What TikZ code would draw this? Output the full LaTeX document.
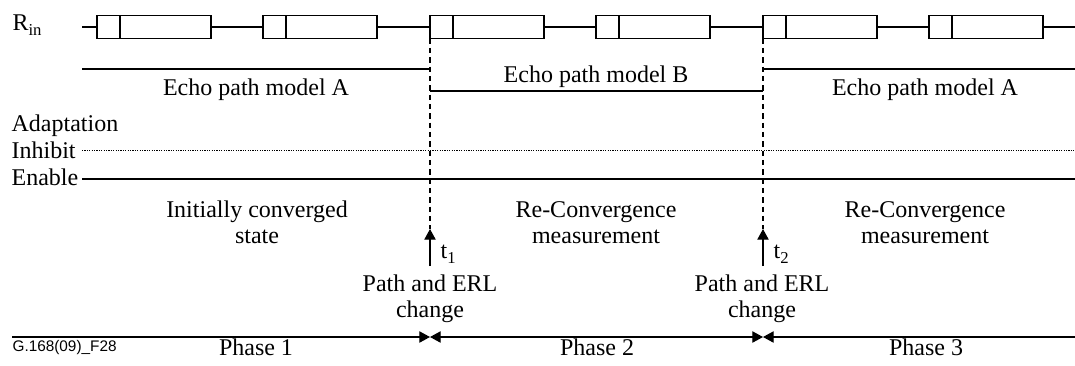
\documentclass[tikz,border=0pt]{standalone}
\usepackage{fontspec}
\setmainfont{Liberation Serif}
\setsansfont{Liberation Sans}
\usetikzlibrary{arrows.meta}
\newcommand\lowsub[1]{\raisebox{-4pt}{\fontsize{12.5}{13}\selectfont #1}}
\tikzset{>={Triangle[length=8pt,width=8.5pt]}}
\tikzset{
  lbl/.style={inner sep=0pt, font=\fontsize{18}{19.5}\selectfont},
  twolbl/.style={lbl, align=center, anchor=base},
  chgdash/.style={dash pattern=on 4pt off 3pt},
  inhdots/.style={dash pattern=on 0.9pt off 0.9pt, line width=0.7pt},
}

\begin{document}
\begin{tikzpicture}[x=0.75pt, y=-0.75pt, line width=0.9pt]
    \useasboundingbox (0,0) rectangle (1075,365);
    % input signal
    \node[lbl, anchor=base west] (rin) at (12,30) {R\lowsub{in}};
    \coordinate (rinL) at (82,27);
    \coordinate (rinR) at (1075,27);
    \draw (rinL) -- (rinR);
    \foreach \bx in {97,263,430,596,763,929} {
        \draw[fill=white] (\bx,15.5) rectangle ++(114,23);
        \draw (\bx+23,15.5) -- ++(0,23);
    }
    % echo path models
    \coordinate (echoA1L) at (82,69);
    \coordinate (echoA1R) at (430,69);
    \coordinate (echoBL) at (430,91);
    \coordinate (echoBR) at (763,91);
    \coordinate (echoA2L) at (763,69);
    \coordinate (echoA2R) at (1075,69);
    \draw (echoA1L) -- (echoA1R);
    \draw (echoBL) -- (echoBR);
    \draw (echoA2L) -- (echoA2R);
    \node[lbl, anchor=base] (modelA1) at (256,95) {Echo path model A};
    \node[lbl, anchor=base] (modelB) at (596,82) {Echo path model B};
    \node[lbl, anchor=base] (modelA2) at (925,95) {Echo path model A};
    % adaptation
    \node[lbl, anchor=base west] (adapt) at (11,131) {Adaptation};
    \node[lbl, anchor=base west] (inhibit) at (11,158) {Inhibit};
    \node[lbl, anchor=base west] (enable) at (11,185) {Enable};
    \coordinate (inhL) at (82,150);
    \coordinate (inhR) at (1075,150);
    \coordinate (enaL) at (82,179);
    \coordinate (enaR) at (1075,179);
    \draw[inhdots] (inhL) -- (inhR);
    \draw (enaL) -- (enaR);
    % change instants
    \coordinate (t1top) at (430,38.5);
    \coordinate (t1tip) at (430,229);
    \coordinate (t1foot) at (430,266);
    \coordinate (t2top) at (763,38.5);
    \coordinate (t2tip) at (763,229);
    \coordinate (t2foot) at (763,266);
    \draw[chgdash] (t1top) -- (t1tip);
    \draw[chgdash] (t2top) -- (t2tip);
    \draw[->] (t1foot) -- (t1tip);
    \draw[->] (t2foot) -- (t2tip);
    \node[lbl, anchor=base west] (t1) at (440,258) {t\lowsub{1}};
    \node[lbl, anchor=base west] (t2) at (773,258) {t\lowsub{2}};
    \node[twolbl] (chg1) at (430,317) {Path and ERL\\change};
    \node[twolbl] (chg2) at (762,317) {Path and ERL\\change};
    % states
    \node[twolbl] (state1) at (257,243) {Initially converged\\state};
    \node[twolbl] (state2) at (596,243) {Re-Convergence\\measurement};
    \node[twolbl] (state3) at (925,243) {Re-Convergence\\measurement};
    % phases
    \coordinate (axL) at (12,337);
    \coordinate (ax1) at (430,337);
    \coordinate (ax2) at (763,337);
    \coordinate (axR) at (1075,337);
    \draw[->] (axL) -- (ax1);
    \draw[<->] (ax1) -- (ax2);
    \draw[<-] (ax2) -- (axR);
    \node[lbl, anchor=base] (ph1) at (256,355) {Phase 1};
    \node[lbl, anchor=base] (ph2) at (597,355) {Phase 2};
    \node[lbl, anchor=base] (ph3) at (926,355) {Phase 3};
    \node[inner sep=0pt, anchor=base west, font=\sffamily\fontsize{11.5}{13}\selectfont] (fig) at (12,351) {G.168(09)\_F28};
\end{tikzpicture}
\end{document}
